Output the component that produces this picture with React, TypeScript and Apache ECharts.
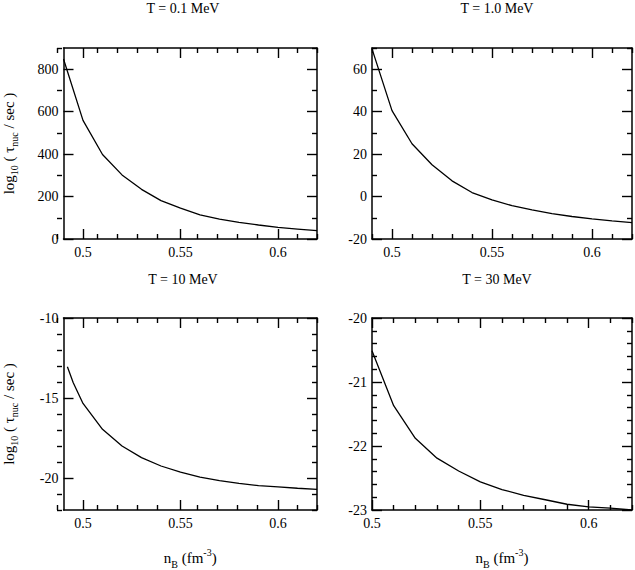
import React, { useEffect, useRef } from "react";
import * as echarts from "echarts";

// ---- data ----
const titles = ["T = 0.1 MeV", "T = 1.0 MeV", "T = 10 MeV", "T = 30 MeV"];

const nB1 = [0.49, 0.5, 0.51, 0.52, 0.53, 0.54, 0.55, 0.56, 0.57, 0.58, 0.59, 0.6, 0.61, 0.62];
const tau1 = [848, 559, 398, 302, 234, 181, 145, 114, 94, 78, 66, 55, 47, 39];

const nB2 = [0.49, 0.5, 0.51, 0.52, 0.53, 0.54, 0.55, 0.56, 0.57, 0.58, 0.59, 0.6, 0.61, 0.62];
const tau2 = [69.6, 40.5, 24.9, 15.0, 7.4, 1.9, -1.6, -4.3, -6.3, -8.0, -9.4, -10.5, -11.5, -12.3];

const nB3 = [0.492, 0.495, 0.5, 0.51, 0.52, 0.53, 0.54, 0.55, 0.56, 0.57, 0.58, 0.59, 0.6, 0.61, 0.62];
const tau3 = [-13.05, -14.05, -15.34, -16.96, -18.0, -18.73, -19.25, -19.63, -19.94, -20.17, -20.33, -20.48, -20.56, -20.64, -20.71];

const nB4 = [0.5, 0.51, 0.52, 0.53, 0.54, 0.55, 0.56, 0.57, 0.58, 0.59, 0.6, 0.61, 0.62];
const tau4 = [-20.51, -21.37, -21.88, -22.19, -22.39, -22.56, -22.68, -22.77, -22.84, -22.91, -22.95, -22.97, -23.0];

// ---- axis ranges and ticks ----
const xRangeA = [0.49, 0.62];
const xRangeB = [0.5, 0.62];
const xMajor = [0.5, 0.55, 0.6];
const xMinorA = [0.49, 0.51, 0.52, 0.53, 0.54, 0.56, 0.57, 0.58, 0.59, 0.61, 0.62];
const xMinorB = [0.51, 0.52, 0.53, 0.54, 0.56, 0.57, 0.58, 0.59, 0.61, 0.62];

const yRange1 = [0, 900];
const yMajor1 = [0, 200, 400, 600, 800];
const yMinor1 = [100, 300, 500, 700, 900];

const yRange2 = [-20, 70];
const yMajor2 = [-20, 0, 20, 40, 60];
const yMinor2 = [-10, 10, 30, 50, 70];

const yRange3 = [-22, -10];
const yMajor3 = [-20, -15, -10];
const yMinor3 = [-22, -21, -19, -18, -17, -16, -14, -13, -12, -11];

const yRange4 = [-23, -20];
const yMajor4 = [-23, -22, -21, -20];
const yMinor4 = [-22.8, -22.6, -22.4, -22.2, -21.8, -21.6, -21.4, -21.2, -20.8, -20.6, -20.4, -20.2];

const FONT = "Liberation Serif";
const BLACK = "#000";

const rich = {
  n: { fontFamily: FONT, fontSize: 15, lineHeight: 22, verticalAlign: "middle", color: BLACK },
  sub: { fontFamily: FONT, fontSize: 10, lineHeight: 10, verticalAlign: "bottom", color: BLACK },
  sup: { fontFamily: FONT, fontSize: 10, lineHeight: 10, verticalAlign: "top", color: BLACK },
};

const yName = "{n|log}{sub|10}{n| ( τ}{sub|nuc}{n| / sec )}";
const xName = "{n|n}{sub|B}{n| (fm}{sup|-3}{n|)}";

const rects = [
  { left: 57, top: 48, width: 260, height: 191 },
  { left: 372, top: 48, width: 260, height: 191 },
  { left: 57, top: 318, width: 260, height: 192 },
  { left: 372, top: 318, width: 260, height: 192 },
];

const tickStyle = { color: BLACK, width: 1.4 };
const lbl = { fontFamily: FONT, fontSize: 14, color: BLACK };

function majorAxes(gi: number, xr: number[], yr: number[], yMaj: number[], showXName: boolean, showYName: boolean) {
  const line = { show: true, onZero: false, lineStyle: { color: BLACK, width: 1.5 } };
  const xAxes: any[] = [];
  const yAxes: any[] = [];
  (["bottom", "top"] as const).forEach((pos) => {
    xAxes.push({
      type: "value",
      gridIndex: gi,
      position: pos,
      min: xr[0],
      max: xr[1],
      axisLine: line,
      splitLine: { show: false },
      axisTick: { show: true, inside: true, length: 10, customValues: xMajor, lineStyle: tickStyle },
      axisLabel: pos === "bottom" ? { show: true, customValues: xMajor, margin: 6, ...lbl } : { show: false },
      name: pos === "bottom" && showXName ? xName : "",
      nameLocation: "middle",
      nameGap: 37,
      nameTextStyle: { fontFamily: FONT, fontSize: 15, color: BLACK, rich },
    });
  });
  (["left", "right"] as const).forEach((pos) => {
    yAxes.push({
      type: "value",
      gridIndex: gi,
      position: pos,
      min: yr[0],
      max: yr[1],
      axisLine: line,
      splitLine: { show: false },
      axisTick: { show: true, inside: true, length: 10, customValues: yMaj, lineStyle: tickStyle },
      axisLabel: pos === "left" ? { show: true, customValues: yMaj, margin: 5, ...lbl } : { show: false },
      name: pos === "left" && showYName ? yName : "",
      nameLocation: "middle",
      nameGap: 44,
      nameTextStyle: { fontFamily: FONT, fontSize: 15, color: BLACK, rich },
    });
  });
  return { xAxes, yAxes };
}

function minorAxes(gi: number, xr: number[], yr: number[], xMin: number[], yMin: number[]) {
  const xAxes: any[] = [];
  const yAxes: any[] = [];
  (["bottom", "top"] as const).forEach((pos) => {
    xAxes.push({
      type: "value",
      gridIndex: gi,
      position: pos,
      min: xr[0],
      max: xr[1],
      axisLine: { show: false, onZero: false },
      splitLine: { show: false },
      axisTick: { show: true, inside: true, length: 5, customValues: xMin, lineStyle: tickStyle },
      axisLabel: { show: false },
    });
  });
  (["left", "right"] as const).forEach((pos) => {
    yAxes.push({
      type: "value",
      gridIndex: gi,
      position: pos,
      min: yr[0],
      max: yr[1],
      axisLine: { show: false, onZero: false },
      splitLine: { show: false },
      axisTick: { show: true, inside: true, length: 5, customValues: yMin, lineStyle: tickStyle },
      axisLabel: { show: false },
    });
  });
  return { xAxes, yAxes };
}

const panels = [
  { xr: xRangeA, yr: yRange1, xMin: xMinorA, yMaj: yMajor1, yMin: yMinor1, xs: nB1, ys: tau1, xn: false, yn: true },
  { xr: xRangeA, yr: yRange2, xMin: xMinorA, yMaj: yMajor2, yMin: yMinor2, xs: nB2, ys: tau2, xn: false, yn: false },
  { xr: xRangeA, yr: yRange3, xMin: xMinorA, yMaj: yMajor3, yMin: yMinor3, xs: nB3, ys: tau3, xn: true, yn: true },
  { xr: xRangeB, yr: yRange4, xMin: xMinorB, yMaj: yMajor4, yMin: yMinor4, xs: nB4, ys: tau4, xn: true, yn: false },
];

export default function App() {
  const ref = useRef<HTMLDivElement>(null);
  useEffect(() => {
    if (!ref.current) return;
    const chart = echarts.init(ref.current, null, { renderer: "svg" });
    const xAxis: any[] = [];
    const yAxis: any[] = [];
    const series: any[] = [];
    const grid: any[] = [];
    rects.forEach((r) => grid.push({ ...r, containLabel: false }));
    rects.forEach((r) => grid.push({ ...r, containLabel: false }));
    panels.forEach((p, i) => {
      const { xAxes, yAxes } = majorAxes(i, p.xr, p.yr, p.yMaj, p.xn, p.yn);
      const xIdx = xAxis.length;
      const yIdx = yAxis.length;
      xAxis.push(...xAxes);
      yAxis.push(...yAxes);
      series.push({
        type: "line",
        xAxisIndex: xIdx,
        yAxisIndex: yIdx,
        data: p.xs.map((x, k) => [x, p.ys[k]]),
        showSymbol: false,
        symbol: "none",
        lineStyle: { color: BLACK, width: 1.3 },
        clip: true,
      });
    });
    panels.forEach((p, i) => {
      const { xAxes, yAxes } = minorAxes(i + 4, p.xr, p.yr, p.xMin, p.yMin);
      xAxis.push(...xAxes);
      yAxis.push(...yAxes);
    });
    const titleCenters = [
      [183, 8],
      [497, 8],
      [183, 279],
      [497, 279],
    ];
    chart.setOption({
      animation: false,
      backgroundColor: "#fff",
      grid,
      xAxis,
      yAxis,
      series,
      graphic: titles.map((t, i) => ({
        type: "text",
        x: titleCenters[i][0],
        y: titleCenters[i][1],
        style: {
          text: t,
          fontFamily: FONT,
          fontSize: 14,
          fill: BLACK,
          align: "center",
          verticalAlign: "middle",
        },
      })),
    });
    return () => chart.dispose();
  }, []);
  return <div ref={ref} style={{ position: "absolute", left: 0, top: 0, width: 635, height: 570 }} />;
}
